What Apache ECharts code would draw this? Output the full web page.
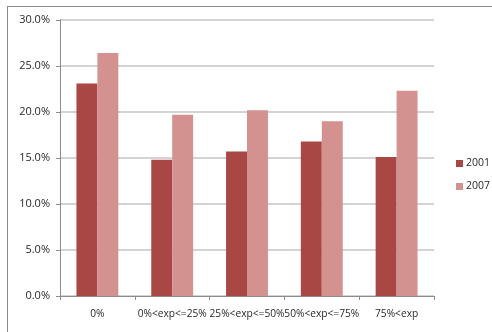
<!DOCTYPE html>
<html>
<head>
<meta charset="utf-8">
<style>
  html, body { margin: 0; padding: 0; background: #fff; }
  #chart { width: 492px; height: 332px; }
</style>
<script src="https://cdn.jsdelivr.net/npm/echarts@6/dist/echarts.min.js"></script>
</head>
<body>
<div id="chart"></div>
<script>
// Share of respondents by exposure band, 2001 vs 2007
const categories = ['0%', '0%<exp<=25%', '25%<exp<=50%', '50%<exp<=75%', '75%<exp'];
const values2001 = [0.231, 0.148, 0.157, 0.168, 0.151];
const values2007 = [0.264, 0.197, 0.202, 0.190, 0.223];
const seriesNames = ['2001', '2007'];

const chart = echarts.init(document.getElementById('chart'), null, { renderer: 'canvas' });

const font = 'Open Sans, Noto Sans, sans-serif';
const textColor = '#2a2a2a';

chart.setOption({
  animation: false,
  backgroundColor: '#fff',
  graphic: [
    { type: 'line', shape: { x1: 7, y1: 6.5, x2: 492, y2: 6.5 }, style: { stroke: '#8c8c8c', lineWidth: 1 } },
    { type: 'line', shape: { x1: 7.5, y1: 6, x2: 7.5, y2: 332 }, style: { stroke: '#8c8c8c', lineWidth: 1 } }
  ],
  grid: { left: 60, right: 58, top: 20, bottom: 36 },
  legend: {
    orient: 'vertical',
    left: 451,
    top: 153,
    itemWidth: 7,
    itemHeight: 7,
    itemGap: 12,
    icon: 'rect',
    textStyle: { fontFamily: font, fontSize: 10.5, color: textColor, padding: [0, 0, 0, -2] },
    data: seriesNames
  },
  xAxis: {
    type: 'category',
    data: categories,
    axisLine: { lineStyle: { color: '#8c8c8c' } },
    axisTick: { show: true, length: 4, alignWithLabel: false, lineStyle: { color: '#8c8c8c' } },
    axisLabel: { fontFamily: font, fontSize: 10.2, color: textColor, margin: 13, interval: 0 }
  },
  yAxis: {
    type: 'value',
    min: 0,
    max: 0.30,
    interval: 0.05,
    axisLine: { show: true, lineStyle: { color: '#8c8c8c' } },
    axisTick: { show: true, length: 4, lineStyle: { color: '#8c8c8c' } },
    splitLine: { lineStyle: { color: '#c4c4c4', width: 1.5 } },
    axisLabel: {
      fontFamily: font, fontSize: 11, color: textColor, margin: 10,
      formatter: v => (v * 100).toFixed(1) + '%'
    }
  },
  series: [
    {
      name: seriesNames[0],
      type: 'bar',
      data: values2001,
      barGap: '0%',
      barCategoryGap: '44%',
      itemStyle: { color: '#a84744' }
    },
    {
      name: seriesNames[1],
      type: 'bar',
      data: values2007,
      barGap: '0%',
      barCategoryGap: '44%',
      itemStyle: { color: '#d39190' }
    }
  ]
});
</script>
</body>
</html>
